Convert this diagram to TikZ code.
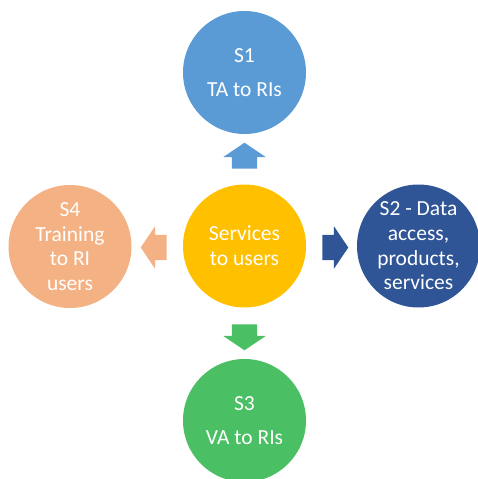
\documentclass[tikz,border=0pt]{standalone}
\usepackage{fontspec}
\setmainfont{Carlito}
\usetikzlibrary{shapes.arrows}
\definecolor{cblue}{RGB}{91,155,213}
\definecolor{cdblue}{RGB}{47,85,151}
\definecolor{cyellow}{RGB}{255,192,0}
\definecolor{corange}{RGB}{244,177,131}
\definecolor{cgreen}{RGB}{74,191,99}
\begin{document}
\begin{tikzpicture}[x=1pt,y=-1pt,
  bubble/.style={circle,minimum size=123pt,inner sep=0pt,text=white,align=center,
    font=\fontsize{21.5}{24.7}\selectfont},
  blockarrow/.style={single arrow,minimum height=26pt,
    single arrow head extend=8.5pt,single arrow head indent=0pt,
    single arrow tip angle=112,inner xsep=0pt,inner ysep=12.5pt,draw=none}]
\useasboundingbox (0,0) rectangle (478,479);
\node[bubble,fill=cyellow] (c) at (244.5,246) {Services\\to users};
\node[bubble,fill=cblue] (s1) at (244.5,72.5) {S1\\[9pt]TA to RIs};
\node[bubble,fill=cdblue] (s2) at (418.5,246) {S2 - Data\\access,\\products,\\services};
\node[bubble,fill=cgreen] (s3) at (244.5,420.5) {S3\\[9pt]VA to RIs};
\node[bubble,fill=corange] (s4) at (70,246.5) {S4\\Training\\to RI\\users};
\node[blockarrow,fill=cblue,rotate=90] (a1) at (244.5,160) {};
\node[blockarrow,fill=cdblue] (a2) at (331,247.5) {};
\node[blockarrow,fill=cgreen,rotate=-90] (a3) at (244.5,333) {};
\node[blockarrow,fill=corange,rotate=180] (a4) at (158,247.5) {};
\end{tikzpicture}
\end{document}
